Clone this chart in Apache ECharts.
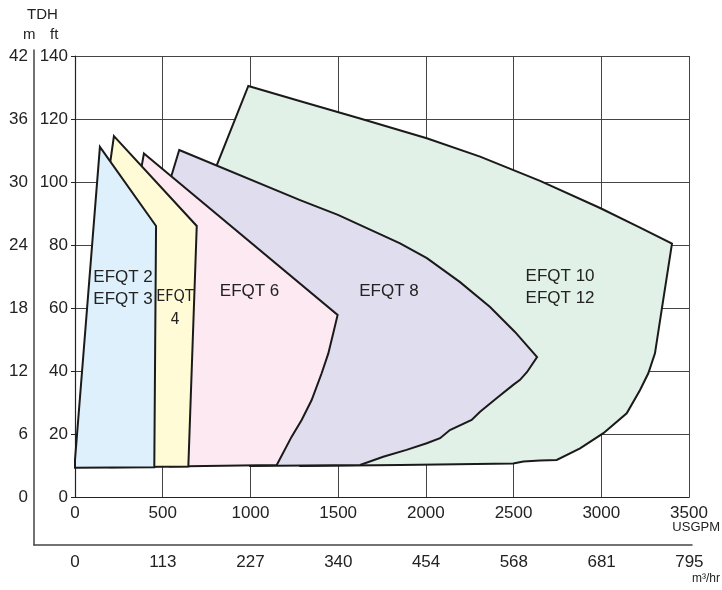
<!DOCTYPE html>
<html>
<head>
<meta charset="utf-8">
<script src="https://cdn.jsdelivr.net/npm/echarts@6/dist/echarts.min.js"></script>
<style>
html,body{margin:0;padding:0;background:#fff;}
#chart{width:722px;height:590px;}
</style>
</head>
<body>
<div id="chart"></div>
<script>
// ---- data (USGPM, ft) ----
const usgpmTicks = [0, 500, 1000, 1500, 2000, 2500, 3000, 3500];
const m3hrLabels = ['0', '113', '227', '340', '454', '568', '681', '795'];
const ftTicks = [0, 20, 40, 60, 80, 100, 120, 140];
const mLabels = ['0', '6', '12', '18', '24', '30', '36', '42'];

const efqt10_12 = [[988,130.5],[1300,125.4],[1625,120.2],[2005,113.9],[2309,108.1],[2651,100.4],[2993,91.8],[3221,85.6],[3403,80.5],
  [3344,59.4],[3306,45.7],[3268,39.4],[3221,34.1],[3145,26.7],[3012,20.4],[2879,15.6],[2746,11.9],[2651,11.7],[2556,11.4],[2498,10.8],
  [1853,10.3],[1283,10.0],[770,100.0]];
const efqt8 = [[594,110.2],[1283,94.3],[1499,89.6],[1853,80.6],[2006,75.9],[2195,68.3],[2366,60.4],[2508,52.5],[2634,44.5],
  [2577,39.8],[2537,37.3],[2498,35.7],[2403,31.5],[2309,27.2],[2261,24.6],[2137,21.4],[2081,18.8],[2005,17.2],[1890,15.1],[1757,12.9],[1625,10.3],
  [998,10.0],[530,98.4]];
const efqt6 = [[393,109.1],[1497,57.9],[1472,52.1],[1444,45.7],[1406,39.4],[1349,30.9],[1292,24.6],[1235,19.3],[1150,10.3],[541,9.8],[370,101.9]];
const efqt4 = [[222,114.6],[694,86.1],[646,9.8],[200,9.6],[188,101.3]];
const efqt2_3 = [[0,9.4],[0,11.9],[142,111.2],[462,86.1],[452,9.6]];

const regionNames = ['EFQT 10/12', 'EFQT 8', 'EFQT 6', 'EFQT 4', 'EFQT 2/3'];
const regionPolys = [efqt10_12, efqt8, efqt6, efqt4, efqt2_3];
const regionColors = ['#e1f1e7', '#e0ddef', '#fce9f2', '#fffbd6', '#def0fb'];

const labelTexts = ['EFQT 2\nEFQT 3', 'EFQT\n4', 'EFQT 6', 'EFQT 8', 'EFQT 10\nEFQT 12'];
const labelAnchors = [[274, 66.4], [570, 59.9], [995, 65.4], [1790, 65.5], [2765, 66.8]];

// ---- chart ----
const chart = echarts.init(document.getElementById('chart'));
const FONT = "'Liberation Sans', Arial, Helvetica, sans-serif";
const TXT = '#222';
const GRIDC = '#444';

const option = {
  animation: false,
  backgroundColor: '#fff',
  textStyle: {fontFamily: FONT},
  grid: [
    {left: 75, right: 33, top: 56, bottom: 92.5},
    {left: 34, right: 30, top: 50, bottom: 45}
  ],
  xAxis: [
    {
      type: 'value', gridIndex: 0, min: 0, max: 3500, interval: 500,
      axisLine: {show: true, lineStyle: {color: '#222', width: 1.2}},
      axisTick: {show: false},
      axisLabel: {color: TXT, fontSize: 17, margin: 7, fontFamily: FONT, formatter: v => String(v)},
      splitLine: {show: true, lineStyle: {color: GRIDC, width: 1}}
    },
    {
      type: 'value', gridIndex: 1, min: -233.7, max: 3515,
      axisLine: {show: true, onZero: false, lineStyle: {color: '#444', width: 1.5}},
      axisTick: {show: false},
      axisLabel: {color: TXT, fontSize: 17, margin: 9, fontFamily: FONT,
        customValues: usgpmTicks,
        formatter: v => m3hrLabels[usgpmTicks.indexOf(Math.round(v))] || ''},
      splitLine: {show: false}
    }
  ],
  yAxis: [
    {
      type: 'value', gridIndex: 0, min: 0, max: 140, interval: 20,
      axisLine: {show: true, lineStyle: {color: '#222', width: 1.2}},
      axisTick: {show: true, length: 4, lineStyle: {color: '#222'}},
      axisLabel: {color: TXT, fontSize: 17, margin: 7, fontFamily: FONT, formatter: v => String(v)},
      splitLine: {show: true, lineStyle: {color: GRIDC, width: 1}}
    },
    {
      type: 'value', gridIndex: 1, min: -15.06, max: 141.9,
      axisLine: {show: true, onZero: false, lineStyle: {color: '#444', width: 1.5}},
      axisTick: {show: false},
      axisLabel: {color: TXT, fontSize: 17, margin: 6, fontFamily: FONT,
        customValues: ftTicks,
        formatter: v => mLabels[ftTicks.indexOf(Math.round(v))] || ''},
      splitLine: {show: false}
    }
  ],
  graphic: [
    {type: 'text', left: 27, top: 7, style: {text: 'TDH', fontSize: 15, fill: TXT, fontFamily: FONT}},
    {type: 'text', left: 23, top: 27, style: {text: 'm', fontSize: 15, fill: TXT, fontFamily: FONT}},
    {type: 'text', left: 50, top: 27, style: {text: 'ft', fontSize: 15, fill: TXT, fontFamily: FONT}},
    {type: 'text', right: 2, top: 521, style: {text: 'USGPM', fontSize: 13, fill: TXT, fontFamily: FONT}},
    {type: 'text', right: 2, top: 573, style: {text: 'm³/hr', fontSize: 12, fill: TXT, fontFamily: FONT}}
  ],
  series: [
    {
      type: 'custom', xAxisIndex: 0, yAxisIndex: 0, z: 1,
      coordinateSystem: 'cartesian2d',
      data: regionNames.map((n, i) => ({name: n, value: [i]})),
      encode: {x: -1, y: -1},
      renderItem: function (params, api) {
        const i = params.dataIndex;
        const pts = regionPolys[i].map(p => api.coord(p));
        return {
          type: 'polygon',
          shape: {points: pts},
          style: {fill: regionColors[i], stroke: '#1a1a1a', lineWidth: 2, lineJoin: 'miter'}
        };
      }
    },
    {
      type: 'scatter', xAxisIndex: 0, yAxisIndex: 0, z: 5,
      symbolSize: 0, silent: true,
      itemStyle: {opacity: 1},
      data: labelTexts.map((t, i) => ({name: t, value: labelAnchors[i]})),
      label: {
        show: true, position: 'inside', formatter: p => p.name,
        color: TXT, fontSize: 17, lineHeight: 22, fontFamily: FONT, opacity: 1,
        textBorderWidth: 0
      },
      labelLayout: {hideOverlap: false}
    }
  ]
};
// condensed "EFQT 4" label
option.series[1].data[1].label = {fontFamily: "'Liberation Sans Narrow', 'DejaVu Sans Condensed', sans-serif", fontSize: 16, lineHeight: 23};
chart.setOption(option);
</script>
</body>
</html>
